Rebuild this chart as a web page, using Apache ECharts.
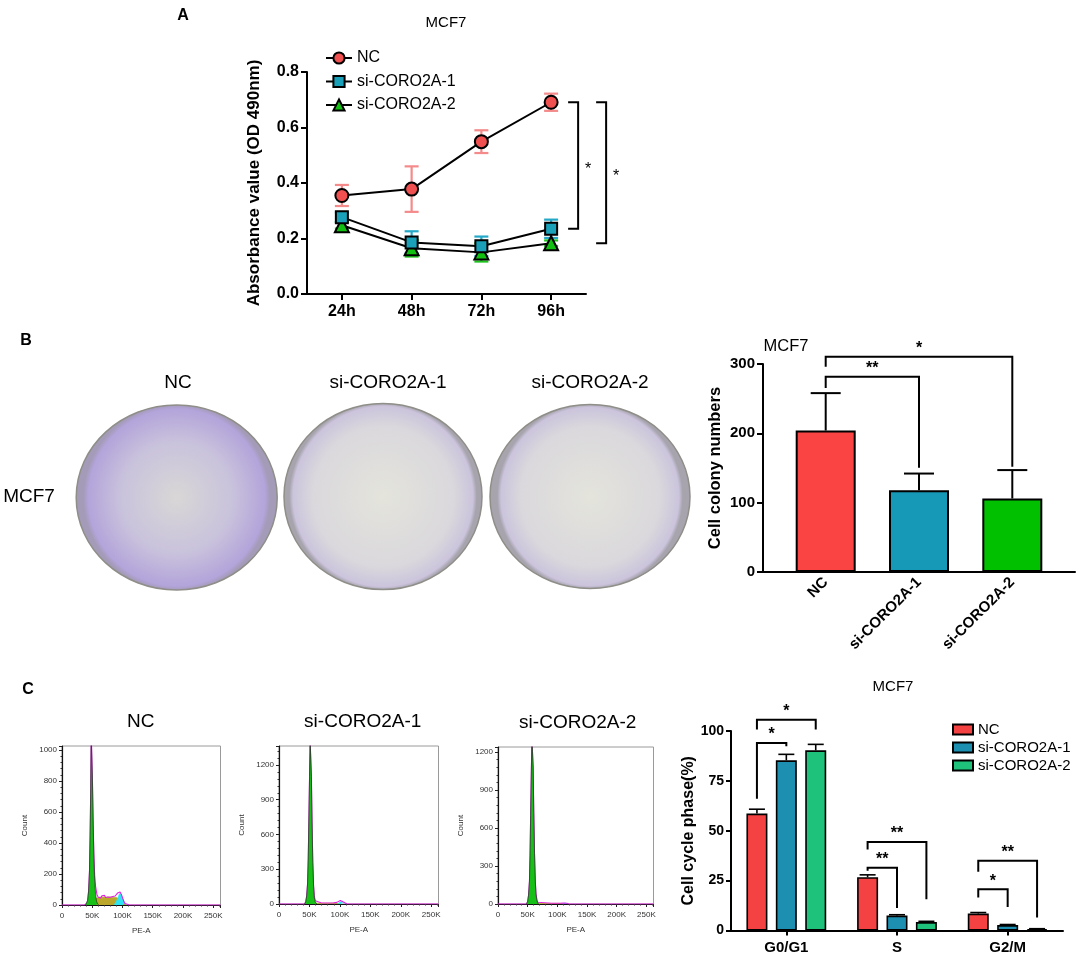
<!DOCTYPE html>
<html>
<head>
<meta charset="utf-8">
<title>CORO2A knockdown - MCF7</title>
<script src="https://cdn.jsdelivr.net/npm/echarts@6.0.0/dist/echarts.min.js"></script>
<style>
html,body{margin:0;padding:0;background:#fff;}
#chart{width:1084px;height:962px;}
</style>
</head>
<body>
<div id="chart"></div>
<script>
// values
var timePoints=['24h','48h','72h','96h'];
var groupNames=['NC','si-CORO2A-1','si-CORO2A-2'];

// A: MTT absorbance (OD 490nm), mean and SD
var odNC=[0.355,0.378,0.549,0.691];
var odNCErr=[0.038,0.082,0.041,0.031];
var odSi1=[0.277,0.186,0.172,0.235];
var odSi1Err=[0.017,0.040,0.035,0.033];
var odSi2=[0.248,0.165,0.150,0.183];
var odSi2Err=[0.012,0.030,0.033,0.010];

// B: colony numbers
var colonyCounts=[204,118,106];
var colonyErr=[54,24,41];

// C: cell cycle phase (%)
var phases=['G0/G1','S','G2/M'];
var phaseNC=[58.6,26.7,8.5];
var phaseNCErr=[2.2,1.2,0.5];
var phaseSi1=[85.3,7.5,2.7];
var phaseSi1Err=[3.0,0.4,0.3];
var phaseSi2=[90.3,4.2,0.7];
var phaseSi2Err=[3.0,0.4,0.2];

// C: flow histograms, [PE-A (K), count]
var histNCTotal=[[0,0],[37,0],[39,3],[41,10],[42.5,32],[44,92],[45.5,225],[46.5,455],[47.5,755],[48.3,1100],[49.3,1100],[50.3,810],[51.5,540],[52.7,330],[54,190],[55.5,120],[57,85],[58,64],[60,50],[62,58],[64,46],[66,60],[68,50],[70,62],[72,48],[74,60],[76,52],[78,64],[80,50],[82,62],[84,55],[86,66],[88,58],[90,70],[92,78],[94,86],[96,84],[98,70],[100,48],[102,25],[104,10],[107,3],[112,0],[262,0]];
var histNCG1=[[39,0],[41,8],[42.5,30],[44,90],[45.5,220],[46.5,450],[47.5,750],[48.3,1100],[49.3,1100],[50.3,800],[51.5,520],[52.7,300],[54,150],[55.5,70],[57,25],[59,5],[61,0]];
var histNCS=[[46,0],[50,20],[53,40],[56,50],[60,48],[66,52],[72,50],[78,52],[84,50],[90,48],[94,40],[98,28],[102,12],[106,0]];
var histNCG2=[[86,0],[89,10],[92,40],[94,65],[96,78],[98,70],[100,48],[102,25],[104,8],[107,0]];

var histSi1Total=[[0,0],[42,0],[44,20],[45.5,70],[47,180],[48,380],[49,700],[50.2,1100],[51.2,1400],[52.2,1400],[53.2,1100],[54.3,700],[55.5,360],[56.8,160],[58,70],[59.5,28],[61,14],[70,8],[80,8],[90,10],[95,14],[98,22],[101,30],[103,30],[105,20],[108,6],[112,0],[262,0]];
var histSi1G1=[[42,0],[44,20],[45.5,70],[47,180],[48,380],[49,700],[50.2,1100],[51.2,1400],[52.2,1400],[53.2,1100],[54.3,700],[55.5,360],[56.8,150],[58,55],[59.5,18],[62,0]];
var histSi1S=[[56,0],[60,8],[70,7],[80,7],[90,8],[96,6],[100,0]];
var histSi1G2=[[96,0],[99,10],[101,20],[103,22],[105,14],[108,0]];

var histSi2Total=[[0,0],[48,0],[50,20],[51.5,70],[53,180],[54,380],[55,700],[56.2,1050],[57.2,1300],[58.2,1300],[59.2,1080],[60.3,720],[61.5,400],[62.8,190],[64,85],[65.5,35],[67,14],[70,8],[90,6],[105,6],[110,8],[113,10],[116,6],[120,0],[262,0]];
var histSi2G1=[[48,0],[50,20],[51.5,70],[53,180],[54,380],[55,700],[56.2,1050],[57.2,1300],[58.2,1300],[59.2,1080],[60.3,720],[61.5,400],[62.8,180],[64,75],[65.5,25],[68,0]];
var histSi2S=[[64,0],[70,5],[90,5],[105,5],[110,0]];
var histSi2G2=[[108,0],[111,6],[113,8],[116,3],[118,0]];

var FONT='"Liberation Sans", Arial, Helvetica, sans-serif';
var BLACK='#000';

var lineColors=['#f05050','#1aa0b8','#12c012'];
var errColors=['#f48a8a','#24a8c8','#1cc41c'];
var colonyColors=['#fa4444','#1599b6','#00c000'];
var cycleColors=['#f44141','#1d8fb1','#1ec27a'];

// annotation layout (significance brackets), in axis units
var sigA=[
    {top:odNC[3],bottom:odSi1[3],dx0:17,dx1:27,text:'*'},
    {top:odNC[3],bottom:odSi2[3],dx0:45,dx1:55,text:'*'}
];
var sigB=[
    {a:0,b:1,top:281.6,legA:265.3,legB:150.4,text:'**'},
    {a:0,b:2,top:310.6,legA:296.1,legB:151.9,text:'*'}
];
var sigC=[
    {cat:0,a:0,b:1,top:94.0,legA:66.1,legB:92.3,text:'*'},
    {cat:0,a:0,b:2,top:105.6,legA:100.7,legB:100.7,text:'*'},
    {cat:1,a:0,b:1,top:31.4,legA:29.9,legB:11.3,text:'**'},
    {cat:1,a:0,b:2,top:44.4,legA:40.6,legB:15.7,text:'**'},
    {cat:2,a:0,b:1,top:20.7,legA:16.5,legB:11.8,text:'*'},
    {cat:2,a:0,b:2,top:34.9,legA:29.4,legB:6.5,text:'**'}
];
var barStepC=29.4;

function errorBars(xi,yi,means,errs,color,cap,lw,upOnly,offset){
    return {
        type:'custom',xAxisIndex:xi,yAxisIndex:yi,silent:true,z:1,
        data:means.map(function(m,i){return [i,m,errs[i]];}),
        renderItem:function(params,api){
            var x=api.value(0),v=api.value(1),e=api.value(2);
            var hi=api.coord([x,v+e]);
            var lo=api.coord([x,upOnly?v:v-e]);
            var cx=hi[0]+(offset||0);
            var st={stroke:color,lineWidth:lw};
            var kids=[
                {type:'line',shape:{x1:cx,y1:hi[1],x2:cx,y2:lo[1]},style:st},
                {type:'line',shape:{x1:cx-cap/2,y1:hi[1],x2:cx+cap/2,y2:hi[1]},style:st}
            ];
            if(!upOnly){
                kids.push({type:'line',shape:{x1:cx-cap/2,y1:lo[1],x2:cx+cap/2,y2:lo[1]},style:st});
            }
            return {type:'group',children:kids};
        }
    };
}

function starText(x,y,text,fs,fw){
    return {type:'text',x:x,y:y,style:{text:text,fill:BLACK,fontSize:fs,fontWeight:fw,fontFamily:FONT,
        align:'center',verticalAlign:'middle',textAlign:'center',textVerticalAlign:'middle'}};
}

function barBrackets(xi,yi,list,xOf){
    return {
        type:'custom',xAxisIndex:xi,yAxisIndex:yi,silent:true,z:5,clip:false,
        data:list.map(function(b){return [b.cat||0,b.top];}),
        renderItem:function(params,api){
            var b=list[params.dataIndex];
            var xa=xOf(api,b,b.a),xb=xOf(api,b,b.b);
            var yt=api.coord([0,b.top])[1];
            var ya=api.coord([0,b.legA])[1],yb=api.coord([0,b.legB])[1];
            return {type:'group',children:[
                {type:'polyline',shape:{points:[[xa,ya],[xa,yt],[xb,yt],[xb,yb]]},style:{stroke:BLACK,lineWidth:2,fill:null}},
                starText((xa+xb)/2,yt-8,b.text,16,'bold')
            ]};
        }
    };
}

function histAxes(box,yMax,yStep,idx){
    var tickStyle={color:'#222',width:1};
    return {
        grid:{left:box[0],top:box[1],width:box[2],height:box[3],show:true,borderColor:'#9a9a9a',borderWidth:1,
            backgroundColor:'transparent'},
        x:{gridIndex:idx,type:'value',min:0,max:262,interval:50,
            name:'PE-A',nameLocation:'middle',nameGap:22,nameTextStyle:{fontSize:8,color:'#333',fontFamily:FONT},
            axisLine:{show:true,onZero:false,lineStyle:{color:'#111',width:1.2}},
            axisTick:{show:true,length:3,lineStyle:tickStyle},
            minorTick:{show:true,splitNumber:5,length:1.5,lineStyle:{color:'#333',width:1}},
            splitLine:{show:false},
            axisLabel:{color:'#333',fontSize:8,fontFamily:FONT,margin:7,showMaxLabel:false,
                formatter:function(v){return v===0?'0':v+'K';}}},
        y:{gridIndex:idx,type:'value',min:0,max:yMax,interval:yStep,
            name:'Count',nameLocation:'middle',nameGap:33,nameTextStyle:{fontSize:8,color:'#333',fontFamily:FONT},
            axisLine:{show:true,lineStyle:{color:'#111',width:1.2}},
            axisTick:{show:true,length:3,lineStyle:tickStyle},
            minorTick:{show:true,splitNumber:5,length:1.5,lineStyle:{color:'#333',width:1}},
            splitLine:{show:false},
            axisLabel:{color:'#333',fontSize:8,fontFamily:FONT,margin:5,showMaxLabel:false,
                formatter:function(v){return String(v);}}}
    };
}

function histSeries(idx,total,g1,s,g2){
    function area(data,color,z){
        return {type:'line',xAxisIndex:idx,yAxisIndex:idx,data:data,symbol:'none',silent:true,z:z,
            lineStyle:{color:color,width:0.6},areaStyle:{color:color,opacity:1}};
    }
    var g1s=area(g1,'#16c016',5);
    g1s.lineStyle={color:'#1d3a1d',width:0.7};
    return [
        area(s,'#bba82a',2),
        area(g2,'#2ee4f2',3),
        {type:'line',xAxisIndex:idx,yAxisIndex:idx,data:total,symbol:'none',silent:true,z:4,
            lineStyle:{color:'#e020e0',width:1.1}},
        g1s
    ];
}

var hists=[
    {box:[62,746,158.5,159],yMax:1026,yStep:200,data:[histNCTotal,histNCG1,histNCS,histNCG2]},
    {box:[279,746,159.5,158],yMax:1364,yStep:300,data:[histSi1Total,histSi1G1,histSi1S,histSi1G2]},
    {box:[498,747,155.5,157],yMax:1239,yStep:300,data:[histSi2Total,histSi2G1,histSi2S,histSi2G2]}
];

var boldLabel={color:BLACK,fontWeight:'bold',fontFamily:FONT};
var axisLine2={show:true,onZero:false,lineStyle:{color:BLACK,width:2}};

var grids=[
    {left:307,top:72,width:279,height:222},
    {left:763,top:364,width:312,height:208}
];
var xAxes=[
    {gridIndex:0,type:'category',data:timePoints,boundaryGap:true,axisLine:axisLine2,
        axisTick:{show:true,alignWithLabel:true,length:6,lineStyle:{color:BLACK,width:2}},
        axisLabel:Object.assign({fontSize:16,margin:10},boldLabel)},
    {gridIndex:1,type:'value',min:-0.672,max:2.672,axisLine:axisLine2,axisTick:{show:false},splitLine:{show:false},
        axisLabel:Object.assign({fontSize:15,margin:8,rotate:45,customValues:[0,1,2],
            formatter:function(v){return groupNames[Math.round(v)]||'';}},boldLabel)}
];
var yAxes=[
    {gridIndex:0,type:'value',min:0,max:0.8,interval:0.2,splitLine:{show:false},axisLine:axisLine2,
        axisTick:{show:true,length:6,lineStyle:{color:BLACK,width:2}},
        axisLabel:Object.assign({fontSize:16,margin:8,formatter:function(v){return v.toFixed(1);}},boldLabel),
        name:'Absorbance value (OD 490nm)',nameLocation:'middle',nameGap:44,
        nameTextStyle:{fontSize:17,fontWeight:'bold',color:BLACK,fontFamily:FONT}},
    {gridIndex:1,type:'value',min:0,max:300,interval:100,splitLine:{show:false},axisLine:axisLine2,
        axisTick:{show:true,length:6,lineStyle:{color:BLACK,width:2}},
        axisLabel:Object.assign({fontSize:15,margin:8},boldLabel),
        name:'Cell colony numbers',nameLocation:'middle',nameGap:39,
        nameTextStyle:{fontSize:16.5,fontWeight:'bold',color:BLACK,fontFamily:FONT}}
];
var series=[];

// A
var odMeans=[odNC,odSi1,odSi2],odErrs=[odNCErr,odSi1Err,odSi2Err];
var odSymbols=['circle','rect','triangle'];
var odSizes=[13,12,14];
for(var g=0;g<3;g++){
    series.push(errorBars(0,0,odMeans[g],odErrs[g],errColors[g],14,2.2,false,0));
}
for(var g=2;g>=0;g--){
    series.push({type:'line',name:groupNames[g],xAxisIndex:0,yAxisIndex:0,data:odMeans[g],
        symbol:odSymbols[g],symbolSize:odSizes[g],showAllSymbol:true,z:6-g,
        lineStyle:{color:BLACK,width:2},
        itemStyle:{color:lineColors[g],borderColor:BLACK,borderWidth:2}});
}
series.push({type:'custom',xAxisIndex:0,yAxisIndex:0,silent:true,z:5,clip:false,
    data:sigA.map(function(b){return [3,b.top];}),
    renderItem:function(params,api){
        var b=sigA[params.dataIndex];
        var x=api.coord([3,0])[0];
        var yt=api.coord([3,b.top])[1],yb=api.coord([3,b.bottom])[1];
        var x0=x+b.dx0,x1=x+b.dx1;
        return {type:'group',children:[
            {type:'polyline',shape:{points:[[x0,yt],[x1,yt],[x1,yb],[x0,yb]]},style:{stroke:BLACK,lineWidth:2,fill:null}},
            starText(x1+10,(yt+yb)/2+4,b.text,16,'normal')
        ]};
    }});

// B
series.push({type:'bar',xAxisIndex:1,yAxisIndex:1,barWidth:60,z:2,
    data:colonyCounts.map(function(v,i){
        return {value:[i,v],itemStyle:{color:colonyColors[i],borderColor:BLACK,borderWidth:2}};
    })});
series.push(errorBars(1,1,colonyCounts,colonyErr,BLACK,30,2,true,0));
series.push(barBrackets(1,1,sigB,function(api,b,i){return api.coord([i,0])[0];}));

// C histograms
var legends=[
    {left:320,top:45,orient:'vertical',itemWidth:26,itemHeight:14,itemGap:7.5,data:groupNames,
        textStyle:{fontSize:16,color:BLACK,fontFamily:FONT}}
];
hists.forEach(function(h,k){
    var idx=2+k;
    var ax=histAxes(h.box,h.yMax,h.yStep,idx);
    grids.push(ax.grid);
    xAxes.push(ax.x);
    yAxes.push(ax.y);
    series=series.concat(histSeries(idx,h.data[0],h.data[1],h.data[2],h.data[3]));
});

// C bars
grids.push({left:731,top:731,width:332,height:199.5});
xAxes.push({gridIndex:5,type:'category',data:phases,boundaryGap:true,axisLine:axisLine2,
    axisTick:{show:true,alignWithLabel:true,length:5,lineStyle:{color:BLACK,width:2}},
    axisLabel:Object.assign({fontSize:15,margin:10},boldLabel)});
yAxes.push({gridIndex:5,type:'value',min:0,max:100,interval:25,splitLine:{show:false},axisLine:axisLine2,
    axisTick:{show:true,length:5,lineStyle:{color:BLACK,width:2}},
    axisLabel:Object.assign({fontSize:14,margin:7},boldLabel),
    name:'Cell cycle phase(%)',nameLocation:'middle',nameGap:33,
    nameTextStyle:{fontSize:16,fontWeight:'bold',color:BLACK,fontFamily:FONT}});
var phaseMeans=[phaseNC,phaseSi1,phaseSi2],phaseErrs=[phaseNCErr,phaseSi1Err,phaseSi2Err];
for(var g=0;g<3;g++){
    series.push({type:'bar',name:groupNames[g]+'|C',xAxisIndex:5,yAxisIndex:5,data:phaseMeans[g],
        barWidth:21,barGap:'40%',z:2,
        itemStyle:{color:cycleColors[g],borderColor:BLACK,borderWidth:1.6}});
}
for(var g=0;g<3;g++){
    series.push(errorBars(5,5,phaseMeans[g],phaseErrs[g],BLACK,16,1.6,true,(g-1)*barStepC));
}
series.push(barBrackets(5,5,sigC,function(api,b,i){return api.coord([b.cat,0])[0]+(i-1)*barStepC;}));
legends.push({left:947,top:717,orient:'vertical',icon:'rect',itemWidth:20,itemHeight:10,itemGap:3,
    data:groupNames.map(function(n){return n+'|C';}),
    formatter:function(n){return n.split('|')[0];},
    textStyle:{fontSize:15,color:BLACK,fontFamily:FONT}});

grids.forEach(function(gr){gr.containLabel=false;gr.outerBoundsMode='none';});

// plates and free text
function plateFill(dense){
    return {type:'radial',x:0.5,y:0.5,r:0.5,colorStops:dense?
        [{offset:0,color:'#d9d7d6'},{offset:0.6,color:'#c9c2dc'},{offset:0.95,color:'#b3a4da'},{offset:1,color:'#a49bb8'}]:
        [{offset:0,color:'#e4e4dc'},{offset:0.75,color:'#dad8dc'},{offset:0.96,color:'#cbc4dc'},{offset:1,color:'#a8a4ae'}]};
}
var plates=[[176.7,497.5,100.5,92.5,true],[383,496.5,99,93,false],[590,496.5,100,92,false]];
var labels=[
    ['A',183,16,16,'bold'],['B',26,341,16,'bold'],['C',28,690,16,'bold'],
    ['MCF7',446,23,15,'normal'],
    ['NC',178,383,19,'normal'],['si-CORO2A-1',388,383,19,'normal'],['si-CORO2A-2',590,383,19,'normal'],
    ['MCF7',29,497,19,'normal'],['MCF7',786,346,16.5,'normal'],
    ['NC',140.7,722,19,'normal'],['si-CORO2A-1',362.7,722,19,'normal'],['si-CORO2A-2',577.7,722.5,19,'normal'],
    ['MCF7',893,687,15,'normal']
];
var graphics=plates.map(function(p){
    return {type:'ellipse',shape:{cx:p[0],cy:p[1],rx:p[2],ry:p[3]},silent:true,
        style:{fill:plateFill(p[4]),stroke:'#8f8e88',lineWidth:1.5}};
});
labels.forEach(function(t){
    graphics.push({type:'text',x:t[1],y:t[2],silent:true,
        style:{text:t[0],fill:BLACK,fontSize:t[3],fontWeight:t[4],fontFamily:FONT,
            align:'center',verticalAlign:'middle',textAlign:'center',textVerticalAlign:'middle'}});
});

var chart=echarts.init(document.getElementById('chart'),null,{renderer:'canvas'});
chart.setOption({
    animation:false,
    backgroundColor:'#fff',
    textStyle:{fontFamily:FONT},
    legend:legends,
    grid:grids,
    xAxis:xAxes,
    yAxis:yAxes,
    series:series,
    graphic:{elements:graphics}
});
</script>
</body>
</html>
